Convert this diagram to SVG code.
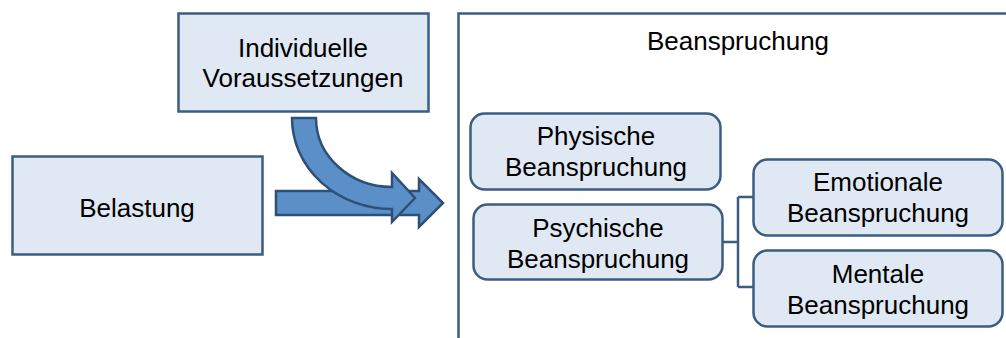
<svg xmlns="http://www.w3.org/2000/svg" width="1006" height="338" viewBox="0 0 1006 338">
  <style>
    .box { fill: #dfe8f3; stroke: #3b5d82; stroke-width: 2.5; }
    .frame { fill: #ffffff; stroke: #3b5d82; stroke-width: 2.5; }
    .arrow { fill: #5b8fc8; stroke: #2e5077; stroke-width: 2.5; stroke-linejoin: miter; }
    .link { fill: none; stroke: #3b5d82; stroke-width: 2.5; }
    text { font-family: "Liberation Sans", Arial, sans-serif; font-size: 26px; fill: #000000; text-anchor: middle; }
  </style>

  <!-- outer container on the right -->
  <g id="beanspruchung">
    <rect class="frame" x="458.5" y="13.5" width="600" height="400"/>
    <text x="738" y="50">Beanspruchung</text>
  </g>

  <g id="individuelle-voraussetzungen">
    <rect class="box" x="178.5" y="13.5" width="250" height="98"/>
    <text x="303" y="57">Individuelle</text>
    <text x="303" y="87">Voraussetzungen</text>
  </g>

  <g id="belastung">
    <rect class="box" x="12.5" y="156.5" width="250" height="98"/>
    <text x="137" y="217">Belastung</text>
  </g>

  <g id="physische">
    <rect class="box" x="470.5" y="113.5" width="250" height="76" rx="14"/>
    <text x="596" y="145">Physische</text>
    <text x="596" y="176">Beanspruchung</text>
  </g>

  <g id="psychische">
    <rect class="box" x="473.5" y="204.5" width="249" height="75" rx="14"/>
    <text x="598" y="237">Psychische</text>
    <text x="598" y="268">Beanspruchung</text>
  </g>

  <g id="emotionale">
    <rect class="box" x="753.5" y="159.5" width="249" height="76" rx="14"/>
    <text x="878" y="191">Emotionale</text>
    <text x="878" y="222">Beanspruchung</text>
  </g>

  <g id="mentale">
    <rect class="box" x="753.5" y="250.5" width="249" height="76" rx="14"/>
    <text x="878" y="283">Mentale</text>
    <text x="878" y="314">Beanspruchung</text>
  </g>

  <g id="connectors">
    <!-- straight block arrow: Belastung into Beanspruchung -->
    <path class="arrow" d="M276,191 H419 V179 L443,203 L419,227 V215 H276 Z"/>
    <!-- curved block arrow from Individuelle Voraussetzungen -->
    <path class="arrow" d="M292,118 H316 A76 69 0 0 0 392,187 V173 L415,198 L392,222 V209 A100 91 0 0 1 292,118 Z"/>
    <!-- bracket joining Psychische to its two sub-types -->
    <path class="link" d="M722,242 H738 M738,197 V287 M738,197 H753 M738,287 H753"/>
  </g>
</svg>
